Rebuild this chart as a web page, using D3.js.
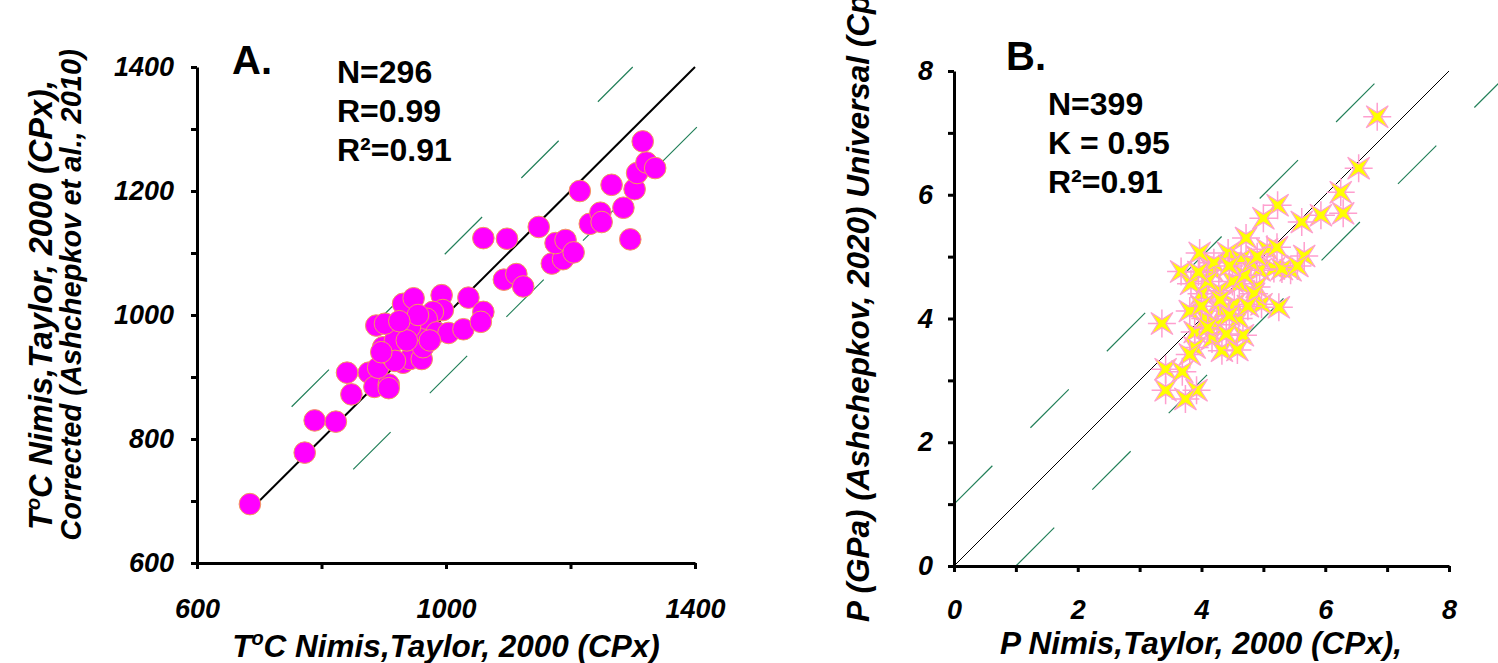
<!DOCTYPE html>
<html>
<head>
<meta charset="utf-8">
<script src="https://cdn.jsdelivr.net/npm/d3@7"></script>
<style>
  body { margin: 0; background: #fff; }
  svg { display: block; font-family: "Liberation Sans", Arial, sans-serif; }
  .axis path, .axis line { stroke: #000; stroke-width: 3; }
  .axis text { font-size: 27px; font-weight: bold; font-style: italic; fill: #000; }
  .title { font-size: 31.5px; font-weight: bold; font-style: italic; }
  .title1 { font-size: 32.5px; font-weight: bold; font-style: italic; }
  .title2 { font-size: 29px; font-weight: bold; font-style: italic; }
  .stat { font-size: 32px; font-weight: bold; }
  .panel { font-size: 40px; font-weight: bold; }
</style>
</head>
<body>
<svg id="chart" width="1498" height="663"></svg>
<script>
// panel A: temperature, Nimis & Taylor (x) vs corrected (y)
var tempX = [685, 773, 789, 823, 841, 848, 876, 885, 908, 908, 891, 899, 911, 931, 942, 961, 918, 963, 942, 958,
             888, 902, 931, 948, 993, 995, 979, 969, 985, 1004, 1028, 1036, 1060, 1056, 1060, 1098, 1093, 1113, 1124, 1149,
             1170, 1188, 1176, 1192, 1205, 1215, 1231, 1248, 1250, 1266, 1285, 1296, 1303, 1307, 1322, 1336, 1316,
             942, 937, 918, 896, 974, 955, 925];
var tempY = [695, 778, 830, 828, 907, 872, 907, 884, 888, 882, 915, 948, 935, 923, 929, 929, 959, 948, 976, 976,
             983, 986, 1018, 1027, 1032, 1008, 1005, 994, 972, 971, 977, 1028, 1005, 989, 1124, 1123, 1057, 1066, 1046, 1142,
             1083, 1090, 1116, 1121, 1101, 1200, 1147, 1165, 1150, 1210, 1173, 1122, 1203, 1229, 1246, 1237, 1280,
             980, 959, 926, 940, 959, 1000, 990];
var tempTicks = [600, 800, 1000, 1200, 1400];
var tempTickLabels = [600, 1000, 1400];
var tempYTicks = [600, 700, 800, 900, 1000, 1100, 1200, 1300, 1400];
var tempYTickLabels = [600, 800, 1000, 1200, 1400];
var tempStats = ["N=296", "R=0.99", "R\u00b2=0.91"];

// panel B: pressure
var presX = [6.84, 6.54, 6.25, 6.29, 5.93, 5.62, 5.23, 5.00, 4.72, 4.43, 3.97, 3.67, 4.64, 5.06, 5.22, 5.66, 5.44, 5.17, 4.94, 4.17,
             4.89, 4.61, 4.28, 4.00, 3.83, 4.97, 5.25, 4.53, 4.33, 3.81, 3.36, 3.89, 4.17, 4.67, 3.89, 4.33, 4.58, 3.81, 3.42, 3.69,
             3.42, 3.92, 3.74, 4.06, 4.50, 4.70, 4.20, 4.45, 4.10, 4.85, 4.30, 4.60, 4.00, 4.25, 4.75, 4.10, 4.40, 4.45, 3.95, 4.80,
             5.30, 5.55, 4.90];
var presY = [7.26, 6.43, 6.04, 5.70, 5.67, 5.56, 5.83, 5.62, 5.30, 5.06, 5.06, 4.76, 4.96, 5.12, 5.15, 5.01, 4.78, 4.81, 4.78, 4.78,
             4.51, 4.56, 4.45, 4.40, 4.56, 4.23, 4.18, 4.23, 4.12, 4.12, 3.92, 3.78, 3.67, 3.73, 3.53, 3.48, 3.49, 3.42, 3.18, 3.14,
             2.84, 2.84, 2.70, 4.00, 4.60, 4.70, 4.90, 4.85, 4.60, 4.40, 4.30, 4.00, 4.20, 3.90, 4.20, 3.85, 3.75, 4.05, 4.75, 4.90,
             4.80, 4.85, 5.00];
var presTicks = [0, 1, 2, 3, 4, 5, 6, 7, 8];
var presTickLabels = [0, 2, 4, 6, 8];
var presStats = ["N=399", "K = 0.95", "R\u00b2=0.91"];

var svg = d3.select("#chart");
svg.append("rect").attr("width", 1498).attr("height", 663).attr("fill", "#fff");

var dashGreen = "#23805a";

function drawSeg(g, x, y, x0, y0, x1, y1, color, width, dashUnits, periodUnits) {
    var line = g.append("line")
        .attr("x1", x(x0)).attr("y1", y(y0))
        .attr("x2", x(x1)).attr("y2", y(y1))
        .attr("stroke", color).attr("stroke-width", width);
    if (dashUnits) {
        var d = Math.hypot(x(dashUnits) - x(0), y(0) - y(dashUnits));
        var p = Math.hypot(x(periodUnits) - x(0), y(0) - y(periodUnits));
        line.attr("stroke-dasharray", d + "," + (p - d));
    }
}

function axes(g, x, y, xt, xl, yt, yl, xPad, yPad) {
    g.append("g").attr("class", "axis")
        .attr("transform", "translate(0," + y.range()[0] + ")")
        .call(d3.axisBottom(x).tickValues(xt).tickSize(6).tickSizeOuter(0).tickPadding(xPad)
            .tickFormat(function(d){ return xl.indexOf(d) >= 0 ? d : ""; }));
    g.append("g").attr("class", "axis")
        .attr("transform", "translate(" + x.range()[0] + ",0)")
        .call(d3.axisLeft(y).tickValues(yt).tickSize(6).tickSizeOuter(0).tickPadding(yPad)
            .tickFormat(function(d){ return yl.indexOf(d) >= 0 ? d : ""; }));
}

function degTitle(sel, rest, sup, lift) {
    sel.text("T");
    sel.append("tspan").attr("font-size", sup + "px").attr("dy", -lift).text("o");
    sel.append("tspan").attr("dy", lift).text(rest);
}

// ---------- panel A ----------
var xA = d3.scaleLinear().domain([600, 1400]).range([197, 695]);
var yA = d3.scaleLinear().domain([600, 1400]).range([563, 67]);
var gA = svg.append("g");

drawSeg(gA, xA, yA, 752, 852, 1300, 1400, dashGreen, 1.2, 60, 123);
drawSeg(gA, xA, yA, 851, 751, 1405, 1305, dashGreen, 1.2, 60, 123);
drawSeg(gA, xA, yA, 700, 700, 1400, 1400, "#000", 2, 0, 0);

gA.selectAll("circle")
    .data(d3.range(tempX.length))
    .enter()
    .append("circle")
    .attr("cx", function(i){ return xA(tempX[i]); })
    .attr("cy", function(i){ return yA(tempY[i]); })
    .attr("r", 10.8)
    .attr("fill", "#ff00ff")
    .attr("stroke", "#f59a5c")
    .attr("stroke-width", 1);

axes(gA, xA, yA, tempTicks, tempTickLabels, tempYTicks, tempYTickLabels, 30, 17);

gA.append("text").attr("class", "panel").attr("x", 232).attr("y", 74).text("A.");
gA.selectAll(".stat").data(tempStats).enter().append("text")
    .attr("class", "stat")
    .attr("x", 337)
    .attr("y", function(d, i){ return 83 + i * 39; })
    .text(function(d){ return d; });

degTitle(gA.append("text").attr("class", "title").attr("text-anchor", "middle")
    .attr("x", 446).attr("y", 657), "C Nimis,Taylor, 2000 (CPx)", 20, 12);
degTitle(gA.append("text").attr("class", "title1").attr("text-anchor", "middle")
    .attr("transform", "translate(52,305) rotate(-90)"), "C Nimis,Taylor, 2000 (CPx),", 20, 12);
gA.append("text").attr("class", "title2").attr("text-anchor", "middle")
    .attr("transform", "translate(81,295) rotate(-90)")
    .text("Corrected (Ashchepkov et al., 2010)");

// ---------- panel B ----------
var xB = d3.scaleLinear().domain([0, 8]).range([954, 1449]);
var yB = d3.scaleLinear().domain([0, 8]).range([566, 71]);
var gB = svg.append("g");

drawSeg(gB, xB, yB, 0, 1, 7, 8, dashGreen, 1.2, 0.62, 1.235);
drawSeg(gB, xB, yB, 1, 0, 9, 8, dashGreen, 1.2, 0.62, 1.235);
drawSeg(gB, xB, yB, 0, 0, 8, 8, "#000", 1, 0, 0);

var star = "M-11,-11 L0,-4 L11,-11 L4,0 L11,11 L0,4 L-11,11 L-4,0 Z";
var marks = gB.selectAll(".mk")
    .data(d3.range(presX.length))
    .enter()
    .append("g")
    .attr("class", "mk")
    .attr("transform", function(i){ return "translate(" + xB(presX[i]) + "," + yB(presY[i]) + ")"; });
marks.append("path")
    .attr("d", "M-14,0 H14 M0,-14 V14")
    .attr("stroke", "#ff9fcf").attr("stroke-width", 1.5);
marks.append("path")
    .attr("d", star)
    .attr("fill", "#ffff00")
    .attr("stroke", "#ff9fcf").attr("stroke-width", 1.2);

axes(gB, xB, yB, presTicks, presTickLabels, presTicks, presTickLabels, 28, 15);

gB.append("text").attr("class", "panel").attr("x", 1006).attr("y", 70).text("B.");
gB.selectAll(".stat").data(presStats).enter().append("text")
    .attr("class", "stat")
    .attr("x", 1048)
    .attr("y", function(d, i){ return 115 + i * 39; })
    .text(function(d){ return d; });

gB.append("text").attr("class", "title").attr("text-anchor", "middle")
    .attr("x", 1201).attr("y", 654).text("P Nimis,Taylor, 2000 (CPx),");
gB.append("text").attr("class", "title").attr("text-anchor", "start")
    .attr("transform", "translate(869,622) rotate(-90)")
    .text("P (GPa) (Ashchepkov, 2020) Universal (Cpx)");
</script>
</body>
</html>
